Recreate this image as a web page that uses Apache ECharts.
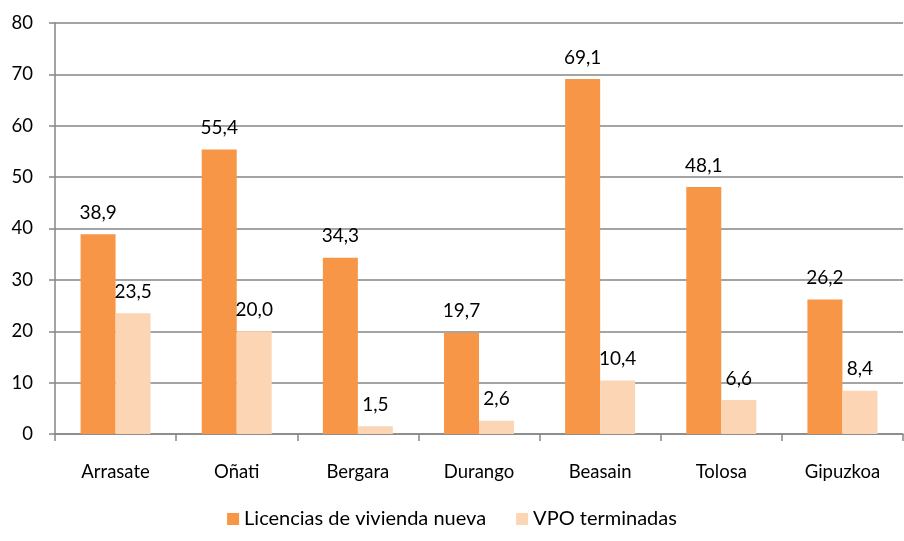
<!DOCTYPE html>
<html>
<head>
<meta charset="utf-8">
<script src="https://cdn.jsdelivr.net/npm/echarts@6/dist/echarts.min.js"></script>
<style>html,body{margin:0;padding:0;background:#fff}#c{width:904px;height:541px}</style>
</head>
<body>
<div id="c"></div>
<script>
var categories = ['Arrasate', 'Oñati', 'Bergara', 'Durango', 'Beasain', 'Tolosa', 'Gipuzkoa'];
var licencias = [38.9, 55.4, 34.3, 19.7, 69.1, 48.1, 26.2];
var vpo = [23.5, 20.0, 1.5, 2.6, 10.4, 6.6, 8.4];
var seriesNames = ['Licencias de vivienda nueva', 'VPO terminadas'];

var FONT = 'Lato';
var chart = echarts.init(document.getElementById('c'), null, {renderer: 'canvas'});
function fmt(p) { return p.value.toFixed(1).replace('.', ','); }
chart.setOption({
  animation: false,
  textStyle: {fontFamily: FONT},
  grid: {left: 55, right: 1, top: 23, bottom: 107},
  legend: {
    bottom: 7, left: 'center',
    itemWidth: 12, itemHeight: 12, itemGap: 30,
    icon: 'rect',
    textStyle: {fontFamily: FONT, fontSize: 20, color: '#000'},
    data: seriesNames
  },
  xAxis: {
    type: 'category', data: categories,
    axisLine: {lineStyle: {color: '#868686', width: 1.5}},
    axisTick: {show: true, length: 7, lineStyle: {color: '#868686', width: 1.5}},
    axisLabel: {margin: 29, fontFamily: FONT, fontSize: 18.5, color: '#000'}
  },
  yAxis: {
    type: 'value', min: 0, max: 80, interval: 10,
    axisLine: {show: true, lineStyle: {color: '#868686', width: 1.5}},
    axisTick: {show: true, length: 6, lineStyle: {color: '#868686', width: 1.5}},
    splitLine: {lineStyle: {color: '#868686', width: 1.5}},
    axisLabel: {margin: 22, fontFamily: FONT, fontSize: 18.5, color: '#000'}
  },
  series: [
    {name: seriesNames[0], type: 'bar', data: licencias, barWidth: 35, barGap: '0%',
     itemStyle: {color: '#F79646'},
     label: {show: true, position: 'top', distance: 12, formatter: fmt, fontFamily: FONT, fontSize: 19, color: '#000'}},
    {name: seriesNames[1], type: 'bar', data: vpo, barWidth: 35, barGap: '0%',
     itemStyle: {color: '#FCD5B5'},
     label: {show: true, position: 'top', distance: 12, formatter: fmt, fontFamily: FONT, fontSize: 19, color: '#000'}}
  ]
});
</script>
</body>
</html>
